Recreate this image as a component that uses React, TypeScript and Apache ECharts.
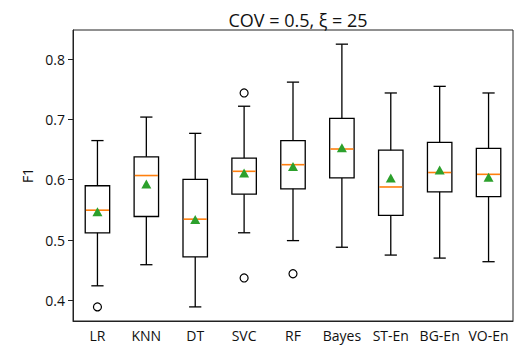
import React, { useEffect, useRef } from "react";
import * as echarts from "echarts";

const categories = ["LR", "KNN", "DT", "SVC", "RF", "Bayes", "ST-En", "BG-En", "VO-En"];
const whiskerLow = [0.424, 0.459, 0.389, 0.512, 0.499, 0.488, 0.475, 0.470, 0.464];
const q1 = [0.512, 0.539, 0.472, 0.576, 0.585, 0.603, 0.541, 0.580, 0.572];
const medians = [0.5495, 0.607, 0.5346, 0.614, 0.625, 0.651, 0.588, 0.612, 0.609];
const q3 = [0.590, 0.638, 0.6005, 0.636, 0.665, 0.702, 0.649, 0.662, 0.652];
const whiskerHigh = [0.665, 0.704, 0.677, 0.722, 0.762, 0.825, 0.744, 0.755, 0.744];
const means = [0.547, 0.593, 0.534, 0.611, 0.622, 0.653, 0.603, 0.616, 0.604];
const outliers: [number, number][] = [
  [0, 0.389],
  [3, 0.744],
  [3, 0.437],
  [4, 0.444],
];
const yTicks = [0.4, 0.5, 0.6, 0.7, 0.8];
const yMin = 0.3656;
const yMax = 0.8485;

const FONT = "Open Sans";

export default function App() {
  const ref = useRef<HTMLDivElement>(null);
  useEffect(() => {
    if (!ref.current) return;
    const chart = echarts.init(ref.current, null, { renderer: "svg" });
    const boxData = categories.map((_, i) => [i, whiskerLow[i], q1[i], medians[i], q3[i], whiskerHigh[i]]);
    const option: any = {
      animation: false,
      backgroundColor: "#fff",
      title: {
        text: "COV = 0.5, ξ = 25",
        left: 293,
        textAlign: "center",
        top: 6,
        textStyle: { fontFamily: FONT, fontSize: 18, fontWeight: "normal", color: "#111" },
      },
      grid: {
        left: 73,
        right: 13,
        top: 30,
        bottom: 31,
        show: true,
        borderColor: "#222",
        borderWidth: 1,
        backgroundColor: "#fff",
      },
      xAxis: {
        type: "category",
        data: categories,
        boundaryGap: true,
        axisLine: { lineStyle: { color: "#222", width: 1 } },
        axisTick: { alignWithLabel: true, length: 5, lineStyle: { color: "#222" } },
        axisLabel: { color: "#111", fontFamily: FONT, fontSize: 14, margin: 7, interval: 0 },
        splitLine: { show: false },
      },
      yAxis: {
        type: "value",
        min: yMin,
        max: yMax,
        name: "F1",
        nameLocation: "middle",
        nameGap: 39,
        nameRotate: 90,
        nameTextStyle: { fontFamily: FONT, fontSize: 14, color: "#111" },
        axisLine: { show: true, lineStyle: { color: "#222", width: 1 } },
        axisTick: { show: true, length: 5, customValues: yTicks, lineStyle: { color: "#222" } },
        axisLabel: {
          color: "#111",
          fontFamily: FONT,
          fontSize: 14,
          margin: 8,
          customValues: yTicks,
          formatter: (v: number) => v.toFixed(1),
        },
        splitLine: { show: false },
      },
      series: [
        {
          type: "custom",
          data: boxData,
          encode: { x: 0, y: [1, 2, 3, 4, 5] },
          renderItem: (params: any, api: any) => {
            const i = api.value(0);
            const pLow = api.coord([i, api.value(1)]);
            const pQ1 = api.coord([i, api.value(2)]);
            const pMed = api.coord([i, api.value(3)]);
            const pQ3 = api.coord([i, api.value(4)]);
            const pHigh = api.coord([i, api.value(5)]);
            const band = api.size([1, 0])[0];
            const bw = band * 0.5;
            const cw = bw / 2;
            const x = pMed[0];
            const ls = { stroke: "#000", lineWidth: 1.3, fill: null };
            return {
              type: "group",
              children: [
                { type: "line", shape: { x1: x, y1: pLow[1], x2: x, y2: pQ1[1] }, style: ls },
                { type: "line", shape: { x1: x, y1: pQ3[1], x2: x, y2: pHigh[1] }, style: ls },
                { type: "line", shape: { x1: x - cw / 2, y1: pLow[1], x2: x + cw / 2, y2: pLow[1] }, style: ls },
                { type: "line", shape: { x1: x - cw / 2, y1: pHigh[1], x2: x + cw / 2, y2: pHigh[1] }, style: ls },
                {
                  type: "rect",
                  shape: { x: x - bw / 2, y: pQ3[1], width: bw, height: pQ1[1] - pQ3[1] },
                  style: { stroke: "#000", lineWidth: 1.3, fill: "none" },
                },
                {
                  type: "line",
                  shape: { x1: x - bw / 2 + 0.7, y1: pMed[1], x2: x + bw / 2 - 0.7, y2: pMed[1] },
                  style: { stroke: "#ff7f0e", lineWidth: 1.6 },
                },
              ],
            };
          },
          z: 2,
        },
        {
          type: "scatter",
          data: means.map((m, i) => [i, m]),
          symbol: "triangle",
          symbolSize: [10, 9],
          itemStyle: { color: "#2ca02c", opacity: 1 },
          z: 3,
        },
        {
          type: "scatter",
          data: outliers,
          symbol: "circle",
          symbolSize: 8,
          itemStyle: { color: "#fff", borderColor: "#000", borderWidth: 1.2, opacity: 1 },
          z: 3,
        },
      ],
    };
    chart.setOption(option);
    return () => chart.dispose();
  }, []);
  return (
    <div
      ref={ref}
      style={{ position: "absolute", left: 0, top: 0, width: 526, height: 352 }}
    />
  );
}
